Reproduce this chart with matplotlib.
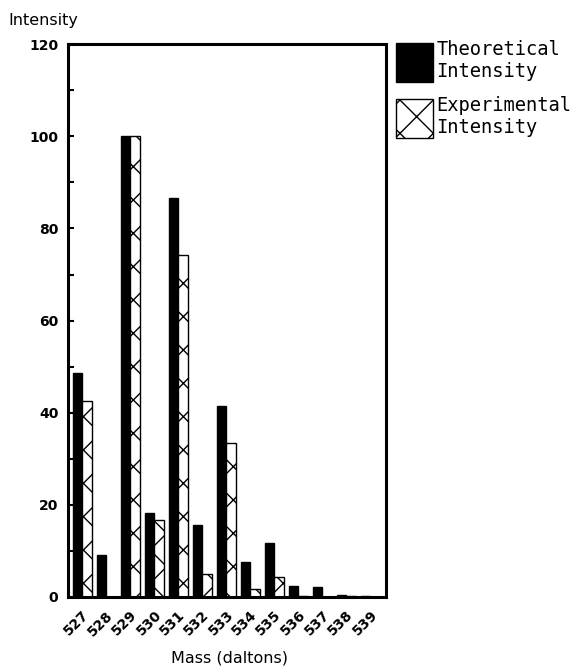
import matplotlib.pyplot as plt
import numpy as np
from matplotlib.patches import Patch
from matplotlib.ticker import MultipleLocator

# Isotope masses (daltons)
masses = ['527', '528', '529', '530', '531', '532', '533',
          '534', '535', '536', '537', '538', '539']

# Relative intensities
theoretical = [48.6, 9.1, 100, 18.2, 86.6, 15.6, 41.4, 7.6, 11.7, 2.4, 2.2, 0.4, 0.2]
experimental = [42.5, 0, 100, 16.7, 74.2, 5.0, 33.4, 1.7, 4.3, 0.3, 0, 0.2, 0]

plt.rcParams['hatch.linewidth'] = 1.0

fig = plt.figure(figsize=(5.78, 6.7), dpi=100)
ax = fig.add_axes([0.1176, 0.109, 0.5502, 0.825])

x = np.arange(len(masses))
w = 0.4
ax.bar(x - w / 2, theoretical, width=w, color='black', edgecolor='black', linewidth=1)
ax.bar(x + w / 2, experimental, width=w, color='white', edgecolor='black',
       hatch='x', linewidth=1)

ax.set_xlim(-0.59, 12.66)
ax.set_ylim(0, 120)
ax.set_xticks(x)
ax.set_xticklabels(masses, rotation=45, ha='right', rotation_mode='anchor',
                   fontsize=10, fontweight='bold')
ax.tick_params(axis='x', length=0, pad=8)

ax.yaxis.set_major_locator(MultipleLocator(20))
ax.yaxis.set_minor_locator(MultipleLocator(10))
ax.tick_params(axis='y', which='both', direction='in', length=4, width=1.5,
               labelsize=10, pad=7)
for lab in ax.get_yticklabels():
    lab.set_fontweight('bold')

for sp in ax.spines.values():
    sp.set_linewidth(2.2)

fig.text(0.014, 1 - 20 / 670, 'Intensity', fontsize=11.5, va='center', ha='left')
fig.text(0.397, 0.018, 'Mass (daltons)', fontsize=11.5, va='center', ha='center')

handles = [Patch(facecolor='black', edgecolor='black'),
           Patch(facecolor='white', edgecolor='black', hatch='x')]
fig.legend(handles, ['Theoretical\nIntensity', 'Experimental\nIntensity'],
           loc='upper left', bbox_to_anchor=(396 / 578, 1 - 40 / 670),
           frameon=False, borderpad=0, borderaxespad=0,
           handlelength=2.0, handleheight=2.8, handletextpad=0.15,
           labelspacing=0.75,
           prop={'family': 'DejaVu Sans Mono', 'size': 13.5})

fig.savefig('out.png', dpi=100)
